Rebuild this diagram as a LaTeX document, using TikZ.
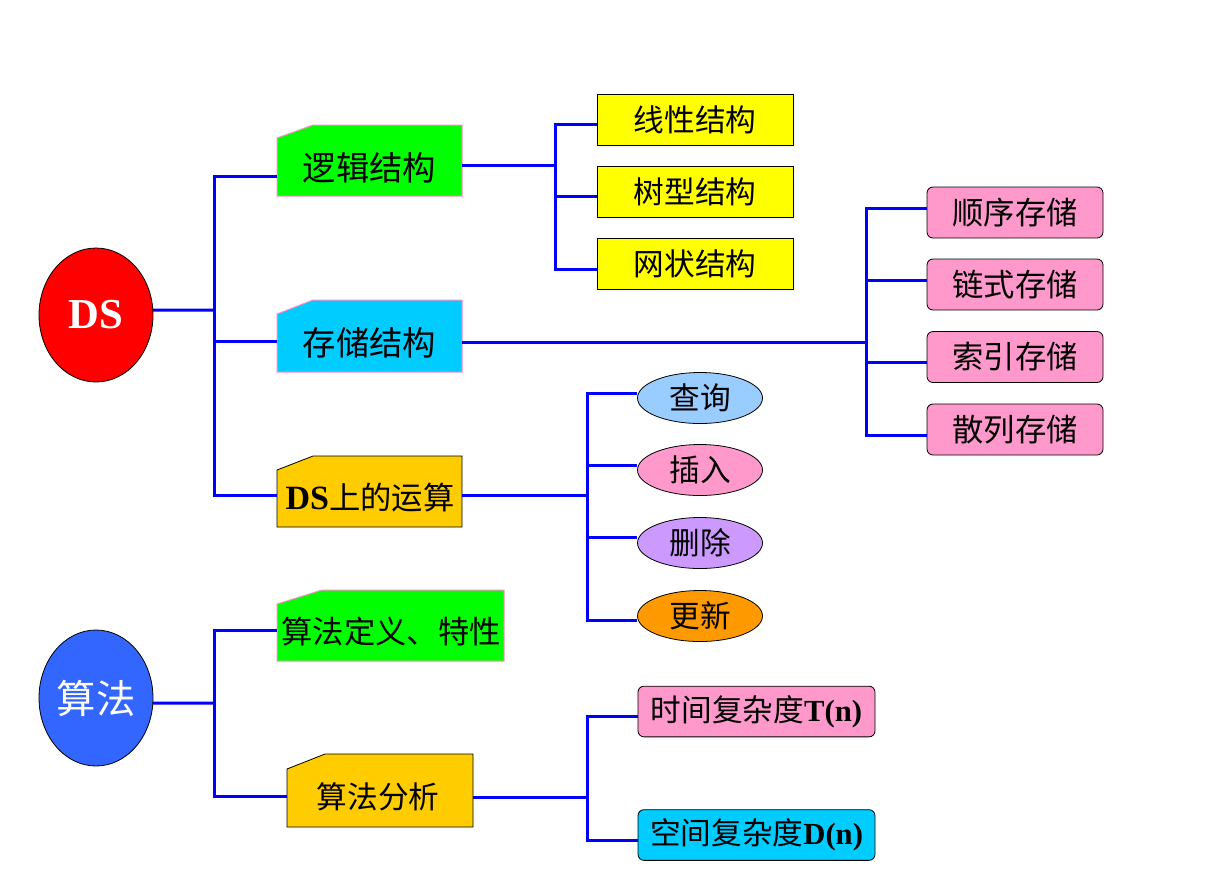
\documentclass[tikz,border=0pt]{standalone}
\usepackage{fontspec}
\setmainfont{Liberation Serif}
\newfontfamily\cjk{Noto Sans CJK SC}
\usetikzlibrary{shapes.geometric}
\definecolor{lineblue}{RGB}{0,0,255}
\definecolor{dsred}{RGB}{255,0,0}
\definecolor{algblue}{RGB}{51,102,255}
\definecolor{bgreen}{RGB}{0,255,0}
\definecolor{bcyan}{RGB}{0,204,255}
\definecolor{bgold}{RGB}{255,204,0}
\definecolor{byellow}{RGB}{255,255,0}
\definecolor{bpink}{RGB}{255,153,204}
\definecolor{bsky}{RGB}{153,204,255}
\definecolor{bviolet}{RGB}{204,153,255}
\definecolor{borange}{RGB}{255,153,0}
\definecolor{pinkline}{RGB}{255,140,200}
\newcommand\fL{\fontsize{25pt}{26pt}\selectfont\cjk}
\newcommand\fM{\fontsize{23.5pt}{25pt}\selectfont\cjk}
\newcommand\fS{\fontsize{23pt}{24pt}\selectfont\cjk}
\newcommand\mkcutbox[8]{%
  \filldraw[#8] ({#2},{#5}) -- ({#2},{#3+#7}) -- ({#2+#6},{#3}) -- ({#4},{#3}) -- ({#4},{#5}) -- cycle;
  \node[inner sep=0pt,minimum width={(#4-#2)*0.75pt},minimum height={(#5-#3)*0.75pt}] (#1) at ({(#2+#4)/2},{(#3+#5)/2}) {};
}
\begin{document}
\begin{tikzpicture}[x=0.75pt,y=-0.75pt,
  conn/.style={draw=lineblue,line width=2.25pt},
  gbox/.style={fill=bgreen,draw=pinkline,line width=0.75pt},
  cbox/.style={fill=bcyan,draw=pinkline,line width=0.75pt},
  obox/.style={fill=bgold,draw=black,line width=0.6pt},
  ybox/.style={draw=black,line width=0.6pt,fill=byellow,minimum width=147pt,minimum height=38.25pt,inner sep=0pt,font=\fS},
  pbox/.style={draw=black,line width=0.6pt,fill=bpink,rounded corners=4.5pt,minimum width=132pt,minimum height=38.25pt,inner sep=0pt,font=\fM},
  opell/.style={ellipse,draw=black,line width=0.6pt,minimum width=93.75pt,minimum height=38.25pt,inner sep=0pt,font=\fS},
  cxbox/.style={draw=black,line width=0.6pt,rounded corners=4.5pt,minimum width=177.75pt,minimum height=38pt,inner sep=0pt,font=\fS},
  bigell/.style={ellipse,draw=black,line width=0.6pt,minimum width=85.5pt,inner sep=0pt,text=white}]
\useasboundingbox (0,0) rectangle (1212,876);

% root ellipses
\node[bigell,fill=dsred,minimum height=100.5pt,font=\fontsize{32pt}{32pt}\selectfont\bfseries] (ds) at (96,315) {DS};
\node[bigell,fill=algblue,minimum height=102pt,font=\fontsize{29.5pt}{30pt}\selectfont\cjk] (alg) at (96,698) {算法};

% cut-corner boxes
\mkcutbox{lj}{277}{125}{462}{196}{36}{13}{gbox}
\mkcutbox{cj}{277}{300}{462}{372}{36}{14}{cbox}
\mkcutbox{op}{277}{456}{462}{527}{36}{14}{obox}
\mkcutbox{ad}{277}{590}{504}{661}{45}{14}{gbox}
\mkcutbox{aa}{287}{754}{473}{827}{38}{15}{obox}
\node[font=\fL] (ljt) at (369.5,168) {逻辑结构};
\node[font=\fL] (cjt) at (369.5,343) {存储结构};
\node[font=\fM] (opt) at (370,498) {{\rmfamily\bfseries\fontsize{25.5pt}{26pt}\selectfont DS}上的运算};
\node[font=\fM] (adt) at (391,632) {算法定义、特性};
\node[font=\fS] (aat) at (378,797) {算法分析};

% logical structures
\node[ybox] (x1) at (695,119.5) {线性结构};
\node[ybox] (x2) at (695,191.5) {树型结构};
\node[ybox] (x3) at (695,263.5) {网状结构};

% storage structures
\node[pbox] (s1) at (1015,212.5) {顺序存储};
\node[pbox] (s2) at (1015,284.5) {链式存储};
\node[pbox] (s3) at (1015,357) {索引存储};
\node[pbox] (s4) at (1015,429.5) {散列存储};

% operations
\node[opell,fill=bsky] (o1) at (700,398) {查询};
\node[opell,fill=bpink] (o2) at (700,470) {插入};
\node[opell,fill=bviolet] (o3) at (700,543) {删除};
\node[opell,fill=borange] (o4) at (700,616) {更新};

% complexity
\node[cxbox,fill=bpink] (t1) at (756.5,711.5) {时间复杂度{\rmfamily\bfseries T(n)}};
\node[cxbox,fill=bcyan] (t2) at (756.5,835) {空间复杂度{\rmfamily\bfseries D(n)}};

% junction coordinates
\coordinate (dsT) at (214,176);
\coordinate (dsM) at (214,310);
\coordinate (dsS) at (214,341);
\coordinate (dsB) at (214,495);
\coordinate (ljM) at (555,165);
\coordinate (ljT) at (555,124);
\coordinate (ljC) at (555,196);
\coordinate (ljB) at (555,269);
\coordinate (cjM) at (866,342);
\coordinate (cj1) at (866,208);
\coordinate (cj2) at (866,280);
\coordinate (cj3) at (866,362);
\coordinate (cj4) at (866,435);
\coordinate (opM) at (587,495);
\coordinate (op1) at (587,393);
\coordinate (op2) at (587,465);
\coordinate (op3) at (587,537);
\coordinate (op4) at (587,620);
\coordinate (alM) at (214,703);
\coordinate (alT) at (214,630);
\coordinate (alB) at (214,796);
\coordinate (aaM) at (587,797);
\coordinate (aaT) at (587,716);
\coordinate (aaB) at (587,840);

% DS connectors
\draw[conn] (ds.5) -- (dsM);
\draw[conn] (lj.west |- dsT) -- (dsT) -- (dsB) -- (op.west |- dsB);
\draw[conn] (dsS) -- (cj.west |- dsS);
% logical
\draw[conn] (lj.east |- ljM) -- (ljM);
\draw[conn] (x1.west |- ljT) -- (ljT) -- (ljB) -- (x3.west |- ljB);
\draw[conn] (ljC) -- (x2.west |- ljC);
% storage
\draw[conn] (cj.east |- cjM) -- (cjM);
\draw[conn] (s1.west |- cj1) -- (cj1) -- (cj4) -- (s4.west |- cj4);
\draw[conn] (cj2) -- (s2.west |- cj2);
\draw[conn] (cj3) -- (s3.west |- cj3);
% operations
\draw[conn] (op.east |- opM) -- (opM);
\draw[conn] (o1.west |- op1) -- (op1) -- (op4) -- (o4.west |- op4);
\draw[conn] (op2) -- (o2.west |- op2);
\draw[conn] (op3) -- (o3.west |- op3);
% algorithm
\draw[conn] (alg.-5) -- (alM);
\draw[conn] (ad.west |- alT) -- (alT) -- (alB) -- (aa.west |- alB);
\draw[conn] (aa.east |- aaM) -- (aaM);
\draw[conn] (t1.west |- aaT) -- (aaT) -- (aaB) -- (t2.west |- aaB);
\end{tikzpicture}
\end{document}
